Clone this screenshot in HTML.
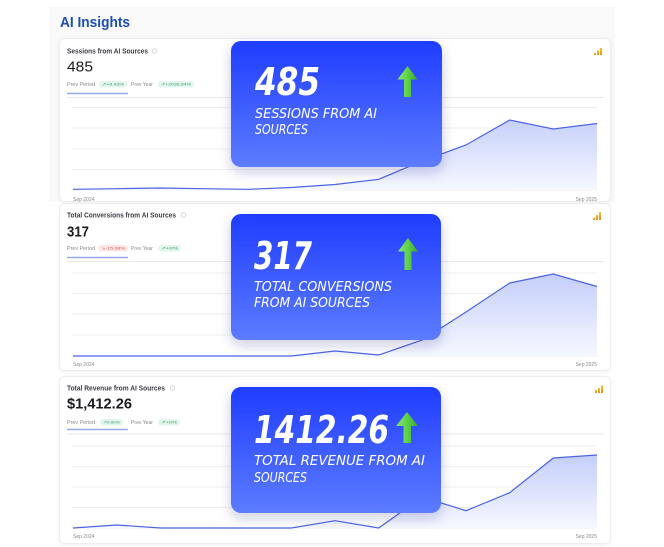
<!DOCTYPE html>
<html><head><meta charset="utf-8"><style>
html,body{margin:0;padding:0;background:#fff;width:664px;height:547px;overflow:hidden}
svg{display:block}
text{font-family:"Liberation Sans",sans-serif}
.hw{font-family:"DejaVu Sans","Liberation Sans",sans-serif}
</style></head><body>
<svg width="664" height="547" viewBox="0 0 664 547" xmlns="http://www.w3.org/2000/svg">
<defs>
  <linearGradient id="card" x1="0" y1="0" x2="0" y2="1">
    <stop offset="0" stop-color="#1f3dff"/>
    <stop offset="1" stop-color="#5d7cff"/>
  </linearGradient>
  <linearGradient id="arrow" x1="0" y1="0" x2="1" y2="0">
    <stop offset="0" stop-color="#86e86e"/>
    <stop offset="0.5" stop-color="#5fd14a"/>
    <stop offset="1" stop-color="#35a92c"/>
  </linearGradient>
  <linearGradient id="f1" gradientUnits="userSpaceOnUse" x1="0" y1="112" x2="0" y2="190">
    <stop offset="0" stop-color="#c2ccfa"/>
    <stop offset="1" stop-color="#f6f8ff"/>
  </linearGradient>
  <linearGradient id="f2" gradientUnits="userSpaceOnUse" x1="0" y1="270" x2="0" y2="356">
    <stop offset="0" stop-color="#c2ccfa"/>
    <stop offset="1" stop-color="#f6f8ff"/>
  </linearGradient>
  <linearGradient id="f3" gradientUnits="userSpaceOnUse" x1="0" y1="452" x2="0" y2="528">
    <stop offset="0" stop-color="#c2ccfa"/>
    <stop offset="1" stop-color="#f6f8ff"/>
  </linearGradient>
  <linearGradient id="ic" x1="0" y1="0" x2="0" y2="1">
    <stop offset="0" stop-color="#f7c52b"/>
    <stop offset="1" stop-color="#f08a1c"/>
  </linearGradient>
  <filter id="sh" x="-20%" y="-20%" width="140%" height="150%">
    <feDropShadow dx="0" dy="5" stdDeviation="6" flood-color="#1a2a80" flood-opacity="0.22"/>
  </filter>
  <filter id="psh" x="-5%" y="-10%" width="110%" height="120%">
    <feDropShadow dx="0" dy="1" stdDeviation="1.5" flood-color="#000" flood-opacity="0.06"/>
  </filter>
</defs>

<!-- backdrop -->
<rect x="49" y="7" width="566" height="195" fill="#f9f9fa"/>
<text x="60" y="27" font-size="14.5" font-weight="bold" fill="#1d4fb0" textLength="70" lengthAdjust="spacingAndGlyphs">AI Insights</text>

<!-- panels -->
<rect x="59.5" y="38.5" width="551" height="163" rx="5" fill="#fff" stroke="#eeeeee" filter="url(#psh)"/>
<rect x="59.5" y="203.5" width="551" height="167" rx="5" fill="#fff" stroke="#eeeeee" filter="url(#psh)"/>
<rect x="59.5" y="376.5" width="551" height="167" rx="5" fill="#fff" stroke="#eeeeee" filter="url(#psh)"/>

<!-- ===== Panel 1 ===== -->
<text x="67" y="53.3" font-size="7" font-weight="bold" fill="#3b3b44" textLength="81" lengthAdjust="spacingAndGlyphs">Sessions from AI Sources</text>
<circle cx="154.5" cy="51" r="2.3" fill="none" stroke="#cfcfcf" stroke-width="0.8"/>
<text x="67" y="71.5" font-size="15" font-weight="500" fill="#1b1b1f" textLength="26" lengthAdjust="spacingAndGlyphs">485</text>
<text x="67" y="85.8" font-size="5" fill="#8a8a8a" textLength="28" lengthAdjust="spacingAndGlyphs">Prev Period</text>
<rect x="99" y="81" width="28" height="6.5" rx="3.2" fill="#e2f6ee"/>
<text x="102" y="85.6" font-size="4" fill="#3a9e6c" textLength="22" lengthAdjust="spacingAndGlyphs">↗+9.43%</text>
<text x="131" y="85.8" font-size="5" fill="#8a8a8a" textLength="22" lengthAdjust="spacingAndGlyphs">Prev Year</text>
<rect x="158" y="81" width="36" height="6.5" rx="3.2" fill="#e2f6ee"/>
<text x="161" y="85.6" font-size="4" fill="#3a9e6c" textLength="30" lengthAdjust="spacingAndGlyphs">↗+2036.84%</text>
<line x1="67" y1="93.5" x2="128" y2="93.5" stroke="#9aa9e6" stroke-width="1.5"/>
<line x1="67" y1="97.5" x2="604" y2="97.5" stroke="#e9e9ec" stroke-width="1"/>
<rect x="594" y="53" width="2" height="2" fill="url(#ic)"/>
<rect x="597" y="50.5" width="2" height="4.5" fill="url(#ic)"/>
<rect x="600" y="48" width="2" height="7" fill="url(#ic)"/>
<g stroke="#efeff2" stroke-width="1">
  <line x1="72" y1="107.5" x2="597" y2="107.5"/>
  <line x1="72" y1="128" x2="597" y2="128"/>
  <line x1="72" y1="149" x2="597" y2="149"/>
  <line x1="72" y1="169.5" x2="597" y2="169.5"/>
  <line x1="72" y1="190" x2="597" y2="190"/>
</g>
<path d="M73,189.3 L116.7,188.7 L160.3,188 L204,188.7 L247.7,189.3 L291.3,187.5 L335,184.5 L378.7,179.3 L422.3,161 L466,145 L509.7,120 L553.3,129 L597,123.5 L597,190 L73,190 Z" fill="url(#f1)"/>
<path d="M73,189.3 L116.7,188.7 L160.3,188 L204,188.7 L247.7,189.3 L291.3,187.5 L335,184.5 L378.7,179.3 L422.3,161 L466,145 L509.7,120 L553.3,129 L597,123.5" fill="none" stroke="#4a64e4" stroke-width="1.2"/>
<text x="73" y="201" font-size="5" fill="#8a8a8a">Sep 2024</text>
<text x="597" y="201" font-size="5" fill="#8a8a8a" text-anchor="end">Sep 2025</text>

<!-- ===== Panel 2 ===== -->
<text x="67" y="217.3" font-size="7" font-weight="bold" fill="#3b3b44" textLength="109" lengthAdjust="spacingAndGlyphs">Total Conversions from AI Sources</text>
<circle cx="183.5" cy="215" r="2.3" fill="none" stroke="#cfcfcf" stroke-width="0.8"/>
<text x="67" y="236.5" font-size="15" font-weight="bold" fill="#1b1b1f" textLength="22" lengthAdjust="spacingAndGlyphs">317</text>
<text x="67" y="249.8" font-size="5" fill="#8a8a8a" textLength="28" lengthAdjust="spacingAndGlyphs">Prev Period</text>
<rect x="98" y="245" width="30" height="6.5" rx="3.2" fill="#fde6e6"/>
<text x="101" y="249.6" font-size="4" fill="#e05555" textLength="24" lengthAdjust="spacingAndGlyphs">↘-15.38%</text>
<text x="131" y="249.8" font-size="5" fill="#8a8a8a" textLength="22" lengthAdjust="spacingAndGlyphs">Prev Year</text>
<rect x="158" y="245" width="23" height="6.5" rx="3.2" fill="#e2f6ee"/>
<text x="161" y="249.6" font-size="4" fill="#3a9e6c" textLength="17" lengthAdjust="spacingAndGlyphs">↗+0%</text>
<line x1="67" y1="257.5" x2="128" y2="257.5" stroke="#9aa9e6" stroke-width="1.5"/>
<line x1="67" y1="261.5" x2="604" y2="261.5" stroke="#e9e9ec" stroke-width="1"/>
<rect x="593" y="217.5" width="2" height="2.5" fill="url(#ic)"/>
<rect x="596" y="215" width="2" height="5" fill="url(#ic)"/>
<rect x="599" y="212" width="2" height="8" fill="url(#ic)"/>
<g stroke="#efeff2" stroke-width="1">
  <line x1="72" y1="273" x2="597" y2="273"/>
  <line x1="72" y1="293.5" x2="597" y2="293.5"/>
  <line x1="72" y1="314" x2="597" y2="314"/>
  <line x1="72" y1="335" x2="597" y2="335"/>
  <line x1="72" y1="356" x2="597" y2="356"/>
</g>
<path d="M73,356 L116.7,356 L160.3,356 L204,356 L247.7,356 L291.3,356 L335,351 L378.7,355 L422.3,340 L466,312 L509.7,283 L553.3,274 L597,286.5 L597,356 L73,356 Z" fill="url(#f2)"/>
<path d="M73,356 L116.7,356 L160.3,356 L204,356 L247.7,356 L291.3,356 L335,351 L378.7,355 L422.3,340 L466,312 L509.7,283 L553.3,274 L597,286.5" fill="none" stroke="#4a64e4" stroke-width="1.2"/>
<text x="73" y="366" font-size="5" fill="#8a8a8a">Sep 2024</text>
<text x="597" y="366" font-size="5" fill="#8a8a8a" text-anchor="end">Sep 2025</text>

<!-- ===== Panel 3 ===== -->
<text x="67" y="390.3" font-size="7" font-weight="bold" fill="#3b3b44" textLength="98" lengthAdjust="spacingAndGlyphs">Total Revenue from AI Sources</text>
<circle cx="172.5" cy="388" r="2.3" fill="none" stroke="#cfcfcf" stroke-width="0.8"/>
<text x="67" y="408.5" font-size="15" font-weight="bold" fill="#1b1b1f" textLength="65" lengthAdjust="spacingAndGlyphs">$1,412.26</text>
<text x="67" y="423.8" font-size="5" fill="#8a8a8a" textLength="28" lengthAdjust="spacingAndGlyphs">Prev Period</text>
<rect x="100" y="419" width="23" height="6.5" rx="3.2" fill="#e2f6ee"/>
<text x="103" y="423.6" font-size="4" fill="#3a9e6c" textLength="17" lengthAdjust="spacingAndGlyphs">↗0.00%</text>
<text x="131" y="423.8" font-size="5" fill="#8a8a8a" textLength="22" lengthAdjust="spacingAndGlyphs">Prev Year</text>
<rect x="158" y="419" width="22" height="6.5" rx="3.2" fill="#e2f6ee"/>
<text x="161" y="423.6" font-size="4" fill="#3a9e6c" textLength="16" lengthAdjust="spacingAndGlyphs">↗+0%</text>
<line x1="67" y1="429.5" x2="128" y2="429.5" stroke="#9aa9e6" stroke-width="1.5"/>
<line x1="67" y1="434" x2="604" y2="434" stroke="#e9e9ec" stroke-width="1"/>
<rect x="595" y="390" width="2" height="3" fill="url(#ic)"/>
<rect x="598" y="388" width="2" height="5" fill="url(#ic)"/>
<rect x="601" y="385.5" width="2" height="7.5" fill="url(#ic)"/>
<g stroke="#efeff2" stroke-width="1">
  <line x1="72" y1="446" x2="597" y2="446"/>
  <line x1="72" y1="466.7" x2="597" y2="466.7"/>
  <line x1="72" y1="487" x2="597" y2="487"/>
  <line x1="72" y1="507.5" x2="597" y2="507.5"/>
  <line x1="72" y1="528" x2="597" y2="528"/>
</g>
<path d="M73,528 L116.7,525 L160.3,528 L204,528 L247.7,528 L291.3,528 L335,520.7 L378.7,528 L422.3,497 L466,510.7 L509.7,492.7 L553.3,458 L597,455 L597,528 L73,528 Z" fill="url(#f3)"/>
<path d="M73,528 L116.7,525 L160.3,528 L204,528 L247.7,528 L291.3,528 L335,520.7 L378.7,528 L422.3,497 L466,510.7 L509.7,492.7 L553.3,458 L597,455" fill="none" stroke="#4a64e4" stroke-width="1.2"/>
<text x="73" y="538" font-size="5" fill="#8a8a8a">Sep 2024</text>
<text x="597" y="538" font-size="5" fill="#8a8a8a" text-anchor="end">Sep 2025</text>

<!-- ===== Blue cards ===== -->
<g filter="url(#sh)">
  <rect x="231" y="41" width="211" height="126" rx="10" fill="url(#card)"/>
  <rect x="231" y="214" width="210" height="126" rx="10" fill="url(#card)"/>
  <rect x="231" y="387" width="210" height="126" rx="10" fill="url(#card)"/>
</g>

<g class="hw" fill="#ffffff">
  <text class="hw" x="255" y="95" font-size="38" font-weight="bold" font-style="italic" textLength="65" lengthAdjust="spacingAndGlyphs">485</text>
  <text class="hw" x="255" y="118" font-size="13" font-style="italic" textLength="122" lengthAdjust="spacingAndGlyphs">SESSIONS FROM AI</text>
  <text class="hw" x="255" y="134" font-size="13" font-style="italic" textLength="53" lengthAdjust="spacingAndGlyphs">SOURCES</text>

  <text class="hw" x="254" y="269" font-size="38" font-weight="bold" font-style="italic" textLength="58" lengthAdjust="spacingAndGlyphs">317</text>
  <text class="hw" x="254" y="291" font-size="13" font-style="italic" textLength="138" lengthAdjust="spacingAndGlyphs">TOTAL CONVERSIONS</text>
  <text class="hw" x="254" y="307" font-size="13" font-style="italic" textLength="116" lengthAdjust="spacingAndGlyphs">FROM AI SOURCES</text>

  <text class="hw" x="254" y="443" font-size="38" font-weight="bold" font-style="italic" textLength="135" lengthAdjust="spacingAndGlyphs">1412.26</text>
  <text class="hw" x="254" y="465" font-size="13" font-style="italic" textLength="171" lengthAdjust="spacingAndGlyphs">TOTAL REVENUE FROM AI</text>
  <text class="hw" x="254" y="482" font-size="13" font-style="italic" textLength="53" lengthAdjust="spacingAndGlyphs">SOURCES</text>
</g>

<!-- arrows -->
<path d="M407.5,66 L417.5,79.5 L411,79.5 L411,97 L404,97 L404,79.5 L397.5,79.5 Z" fill="url(#arrow)"/>
<path d="M408,238 L418,251.5 L411.5,251.5 L411.5,270 L404.5,270 L404.5,251.5 L398,251.5 Z" fill="url(#arrow)"/>
<path d="M407,412 L418,426 L411,426 L411,443 L403.5,443 L403.5,426 L396,426 Z" fill="url(#arrow)"/>
</svg>
</body></html>
